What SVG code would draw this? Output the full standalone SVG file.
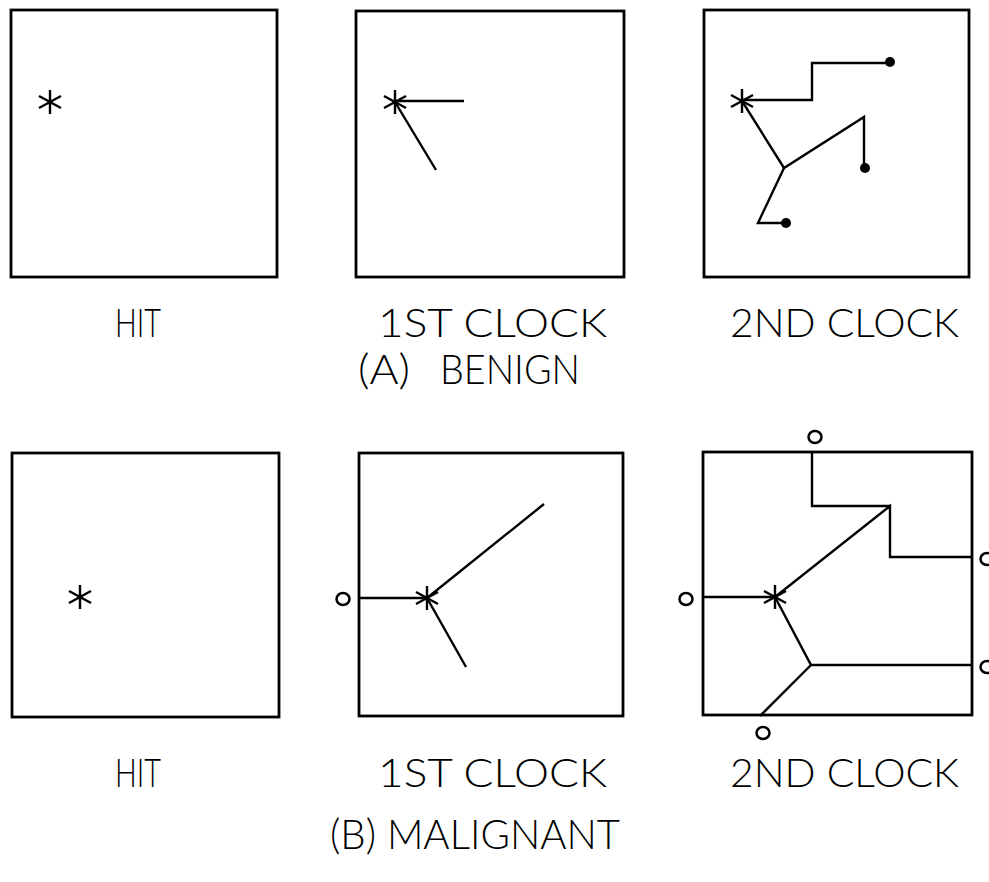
<svg xmlns="http://www.w3.org/2000/svg" width="989" height="882" viewBox="0 0 989 882">
<defs>
<style>
.box{fill:none;stroke:#000;stroke-width:2.8}
.ln{fill:none;stroke:#000;stroke-width:2.4;stroke-linejoin:miter;stroke-linecap:butt}
.st{fill:none;stroke:#000;stroke-width:2.4}
.dot{fill:#000}
.oc{fill:#fff;stroke:#000;stroke-width:2.5}
.lbl{font-family:"Lato","Liberation Sans",Arial,sans-serif;font-weight:300;font-size:39px;fill:#000}
.ttl{font-family:"Lato","Liberation Sans",Arial,sans-serif;font-weight:300;font-size:42px;fill:#000}
</style>
<g id="star"><path class="st" d="M0,-12V12M-11,-6L11,6M-11,6L11,-6"/><circle r="2.5" fill="#000"/></g>
</defs>
<rect width="989" height="882" fill="#fff"/>

<g id="benign-hit">
<rect class="box" x="11" y="10" width="266" height="267"/>
<use href="#star" x="50" y="102"/>
</g>

<g id="benign-clock1">
<rect class="box" x="356" y="11" width="268" height="266"/>
<g class="connectors"><path class="ln" d="M395,101H464M395,102L436,170"/></g>
<use href="#star" x="395" y="102"/>
</g>

<g id="benign-clock2">
<rect class="box" x="704" y="10" width="265" height="267"/>
<g class="connectors">
<path class="ln" d="M742,100H812V63H890"/>
<path class="ln" d="M742,101L784,168L864,117V168"/>
<path class="ln" d="M784,168L758,223H786"/>
</g>
<use href="#star" x="742" y="101"/>
<circle class="dot" cx="890" cy="62" r="5"/>
<circle class="dot" cx="865" cy="168" r="5"/>
<circle class="dot" cx="786" cy="223" r="5"/>
</g>

<g id="malignant-hit">
<rect class="box" x="12" y="453" width="267" height="264"/>
<use href="#star" x="80" y="597"/>
</g>

<g id="malignant-clock1">
<rect class="box" x="359" y="453" width="264" height="263"/>
<g class="connectors"><path class="ln" d="M359,598H427L544,504M427,598L466,667"/></g>
<use href="#star" x="427" y="598"/>
<ellipse class="oc" cx="343" cy="599" rx="6.5" ry="6"/>
</g>

<g id="malignant-clock2">
<rect class="box" x="703" y="452" width="269" height="263"/>
<g class="connectors">
<path class="ln" d="M703,597H775L890,506V557H972"/>
<path class="ln" d="M890,506H812V452"/>
<path class="ln" d="M775,597L811,665H972"/>
<path class="ln" d="M811,665L760,716"/>
</g>
<use href="#star" x="775" y="597"/>
<ellipse class="oc" cx="686" cy="599" rx="6.5" ry="6"/>
<ellipse class="oc" cx="815" cy="437" rx="6.5" ry="6"/>
<ellipse class="oc" cx="987" cy="559" rx="6.5" ry="6"/>
<ellipse class="oc" cx="987" cy="667" rx="6.5" ry="6"/>
<ellipse class="oc" cx="763" cy="733" rx="6.5" ry="6"/>
</g>

<g id="labels">
<text class="lbl" x="115" y="337" textLength="46" lengthAdjust="spacingAndGlyphs">HIT</text>
<text class="lbl" x="378" y="337" textLength="229" lengthAdjust="spacingAndGlyphs">1ST CLOCK</text>
<text class="lbl" x="730" y="337" textLength="229" lengthAdjust="spacingAndGlyphs">2ND CLOCK</text>
<text class="ttl" x="358" y="384" textLength="52" lengthAdjust="spacingAndGlyphs">(A)</text>
<text class="ttl" x="440" y="384" textLength="140" lengthAdjust="spacingAndGlyphs">BENIGN</text>
<text class="lbl" x="115" y="787" textLength="46" lengthAdjust="spacingAndGlyphs">HIT</text>
<text class="lbl" x="378" y="787" textLength="229" lengthAdjust="spacingAndGlyphs">1ST CLOCK</text>
<text class="lbl" x="730" y="787" textLength="229" lengthAdjust="spacingAndGlyphs">2ND CLOCK</text>
<text class="ttl" x="330" y="849" textLength="290" lengthAdjust="spacingAndGlyphs">(B) MALIGNANT</text>
</g>
</svg>
